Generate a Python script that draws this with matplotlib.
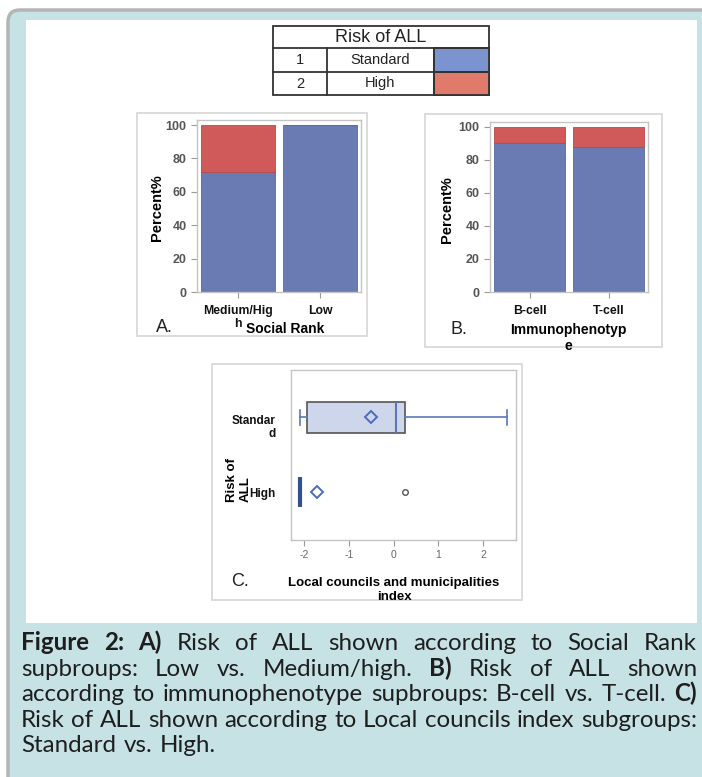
import matplotlib.pyplot as plt
import numpy as np
from matplotlib.patches import Rectangle, FancyBboxPatch
from matplotlib.transforms import offset_copy

# data
risk_levels = ['Standard', 'High']
risk_codes = ['1', '2']

social_cats = ['Medium/Hig\nh', 'Low']
social_std = [72, 100]
social_high = [28, 0]

immuno_cats = ['B-cell', 'T-cell']
immuno_std = [90, 88]
immuno_high = [10, 12]

box_labels = ['Standar\nd', 'High']
box_whislo = [-2.09, -2.09]
box_q1 = [-1.93, -2.09]
box_med = [0.06, -2.09]
box_q3 = [0.25, -2.09]
box_whishi = [2.53, -2.09]
box_mean = [-0.50, -1.71]
box_fliers = [[], [0.26]]

caption = [
    '*Figure* *2:* *A)* Risk of ALL shown according to Social Rank',
    'supbroups: Low vs. Medium/high. *B)* Risk of ALL shown',
    'according to immunophenotype supbroups: B-cell vs. T-cell. *C)*',
    'Risk of ALL shown according to Local councils index subgroups:',
    'Standard vs. High.',
]

BLUE = '#6a7ab2'
RED = '#d05a5a'
W, H = 702, 777
plt.rcParams['font.family'] = ['Liberation Sans', 'DejaVu Sans']
plt.rcParams['axes.unicode_minus'] = False

fig = plt.figure(figsize=(W / 100, H / 100), dpi=100)
fig.patch.set_facecolor('white')

# background layer in pixel coordinates (y down)
bg = fig.add_axes([0, 0, 1, 1], zorder=0)
bg.set_xlim(0, W)
bg.set_ylim(H, 0)
bg.axis('off')

bg.add_patch(FancyBboxPatch((8, 10), W + 40, H + 40,
                            boxstyle='round,pad=0,rounding_size=12',
                            facecolor='#c6e2e5', edgecolor='#b4b4b4', lw=2.5))
bg.add_patch(Rectangle((26, 20), 671, 603, facecolor='white', edgecolor='none'))

# panel frames
for (l, t, r, b) in [(137, 113, 367, 336), (425, 114, 662, 347), (212, 364, 522, 600)]:
    bg.add_patch(Rectangle((l, t), r - l, b - t, fill=False,
                           edgecolor='#d6d6d6', lw=1.2))

# legend table
tl, tr, tt, tb = 273, 489, 26, 95
rows = [48, 72]
bg.add_patch(Rectangle((tl, tt), tr - tl, tb - tt, fill=False, edgecolor='#333333', lw=1.3))
bg.plot([tl, tr], [rows[0], rows[0]], color='#333333', lw=1.3)
bg.plot([tl, tr], [rows[1], rows[1]], color='#333333', lw=1.3)
bg.plot([327, 327], [rows[0], tb], color='#333333', lw=1.3)
bg.plot([434, 434], [rows[0], tb], color='#333333', lw=1.3)
bg.text((tl + tr) / 2, (tt + rows[0]) / 2 + 1, 'Risk of ALL', ha='center', va='center',
        fontsize=13, color='#222222')
swatch = ['#7b93cf', '#e07a6a']
bounds = [rows[0], rows[1], tb]
for i in range(2):
    yc = (bounds[i] + bounds[i + 1]) / 2
    bg.text(300, yc, risk_codes[i], ha='center', va='center', fontsize=10.5, color='#222222')
    bg.text(380, yc, risk_levels[i], ha='center', va='center', fontsize=10.5, color='#222222')
    bg.add_patch(Rectangle((434, bounds[i]), tr - 434, bounds[i + 1] - bounds[i],
                           facecolor=swatch[i], edgecolor='#333333', lw=1.3))


def px_rect(l, t, r, b):
    return [l / W, 1 - b / H, (r - l) / W, (b - t) / H]


def style_axes(ax):
    for s in ax.spines.values():
        s.set_color('#c4c4c4')
        s.set_linewidth(1.0)
    ax.tick_params(colors='#9a9a9a', length=4, width=0.8)


def bar_panel(rect, cats, std, high, xlabel, xlab_pos, ylab_pos, tag, tag_pos):
    ax = fig.add_axes(px_rect(*rect), zorder=2)
    x = np.arange(len(cats))
    ax.bar(x, std, width=0.9, color=BLUE, edgecolor='#5a6aa0', lw=0.6)
    ax.bar(x, high, bottom=std, width=0.9, color=RED, edgecolor='#b84848', lw=0.6)
    ax.set_xlim(-0.5, 1.5)
    ax.set_ylim(0, 103)
    ax.set_yticks(np.arange(0, 101, 20))
    ax.set_xticks(x, cats)
    style_axes(ax)
    for lab in ax.get_yticklabels():
        lab.set_fontweight('bold')
        lab.set_color('#555555')
        lab.set_fontsize(9)
    for lab in ax.get_xticklabels():
        lab.set_fontweight('bold')
        lab.set_color('#111111')
        lab.set_fontsize(8.8)
    ax.tick_params(axis='x', pad=5)
    ax.set_xlabel(xlabel, fontsize=10, fontweight='bold')
    ax.xaxis.set_label_coords(*xlab_pos, transform=bg.transData)
    ax.xaxis.label.set_va('center')
    ax.set_ylabel('Percent%', fontsize=10.5, fontweight='bold')
    ax.yaxis.set_label_coords(*ylab_pos, transform=bg.transData)
    ax.yaxis.label.set_va('center')
    bg.text(tag_pos[0], tag_pos[1], tag, ha='left', va='center', fontsize=13, color='#222222')
    return ax


bar_panel((197, 120, 361, 292), social_cats, social_std, social_high,
          'Social Rank', (285, 329), (157, 208), 'A.', (156, 328))
bar_panel((490, 122, 648, 292), immuno_cats, immuno_std, immuno_high,
          'Immunophenotyp\ne', (568, 338), (447, 210), 'B.', (451, 329))

# panel C: box plot
axc = fig.add_axes(px_rect(291, 370, 516, 540), zorder=2)
stats = []
for i in range(2):
    stats.append(dict(label=box_labels[i], whislo=box_whislo[i], q1=box_q1[i],
                      med=box_med[i], q3=box_q3[i], whishi=box_whishi[i],
                      mean=box_mean[i], fliers=box_fliers[i]))
arts = axc.bxp(stats, positions=[0, 1], widths=0.41, orientation='horizontal',
               patch_artist=True, showmeans=True, capwidths=0.2,
               boxprops=dict(facecolor='#cdd6ea', edgecolor='#555555', lw=1.2),
               whiskerprops=dict(color='#5a78b8', lw=1.2),
               capprops=dict(color='#5a78b8', lw=1.2),
               medianprops=dict(color='#5a78b8', lw=1.5),
               meanprops=dict(marker='D', markerfacecolor='none',
                              markeredgecolor='#4a6cc0', markeredgewidth=1.4, markersize=6),
               flierprops=dict(marker='o', markerfacecolor='none',
                               markeredgecolor='#555555', markersize=4))
arts['medians'][1].set_color('#34508f')
arts['medians'][1].set_linewidth(3)
arts['boxes'][1].set_edgecolor('#34508f')
axc.set_xlim(-2.29, 2.73)
axc.set_ylim(1.64, -0.63)
axc.set_xticks([-2, -1, 0, 1, 2])
style_axes(axc)
for lab in axc.get_xticklabels():
    lab.set_color('#666666')
    lab.set_fontsize(7.5)
for lab in axc.get_yticklabels():
    lab.set_fontweight('bold')
    lab.set_fontsize(8.5)
    lab.set_color('#111111')
axc.tick_params(axis='y', length=0, pad=11)
ylabs = axc.get_yticklabels()
ylabs[0].set_transform(offset_copy(ylabs[0].get_transform(), fig=fig, y=-8, units='dots'))
axc.set_xlabel('Local councils and municipalities\nindex', fontsize=9.5, fontweight='bold')
axc.xaxis.set_label_coords(394, 590, transform=bg.transData)
axc.xaxis.label.set_va('center')
axc.set_ylabel('Risk of\nALL', fontsize=9.5, fontweight='bold', multialignment='left')
axc.yaxis.set_label_coords(239, 480, transform=bg.transData)
axc.yaxis.label.set_va('center')
bg.text(231, 582, 'C.', ha='left', va='center', fontsize=13, color='#222222')

# justified caption
renderer = fig.canvas.get_renderer()
cap_font = ['Lato', 'DejaVu Sans']


def word_width(word, bold, fs):
    t = bg.text(0, 0, word, fontsize=fs, family=cap_font,
                fontweight='bold' if bold else 'normal')
    w = t.get_window_extent(renderer=renderer).width
    t.remove()
    return w


def parse(line):
    return [(w.strip('*'), w.startswith('*')) for w in line.split(' ')]


# pick the size so line 4 fills the width with normal spacing
probe = bg.text(0, 0, caption[3], fontsize=10, family=cap_font)
pw = probe.get_window_extent(renderer=renderer).width
probe.remove()
cap_fs = 10 * 672 / pw

left, right = 21, 697
baselines = [650, 676, 701, 727, 752]
space = word_width('a b', False, cap_fs) - 2 * word_width('a', False, cap_fs)
for i, line in enumerate(caption):
    words = parse(line)
    widths = [word_width(w, b, cap_fs) for w, b in words]
    if i < len(caption) - 1:
        gap = (right - left - sum(widths)) / (len(words) - 1)
    else:
        gap = space
    x = left
    for (w, b), ww in zip(words, widths):
        bg.text(x, baselines[i], w, fontsize=cap_fs, family=cap_font,
                fontweight='bold' if b else 'normal', color='#1e1e1e',
                ha='left', va='baseline')
        x += ww + gap

fig.savefig('out.png', dpi=100, facecolor=fig.get_facecolor())
